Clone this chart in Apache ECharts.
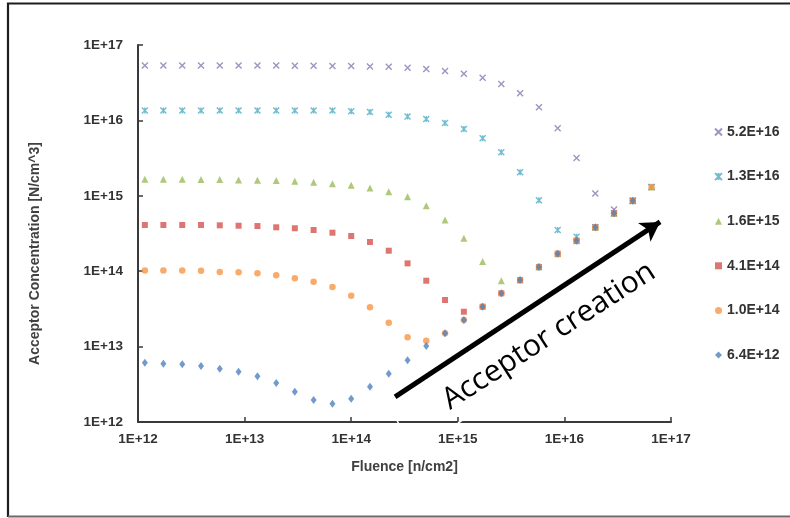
<!DOCTYPE html>
<html>
<head>
<meta charset="utf-8">
<script src="https://cdn.jsdelivr.net/npm/echarts@6/dist/echarts.min.js"></script>
<style>
  html, body { margin: 0; padding: 0; background: #fff; }
  #chart { width: 790px; height: 518px; }
</style>
</head>
<body>
<div id="chart"></div>
<script>
// Fluence steps (n/cm2), each about 1.5x the previous one
const fluence = [1.16e12, 1.73e12, 2.60e12, 3.90e12, 5.85e12, 8.78e12, 1.32e13, 1.98e13,
  2.96e13, 4.44e13, 6.67e13, 1.00e14, 1.50e14, 2.25e14, 3.38e14, 5.06e14, 7.59e14,
  1.14e15, 1.71e15, 2.56e15, 3.84e15, 5.77e15, 8.65e15, 1.30e16, 1.95e16, 2.92e16,
  4.38e16, 6.57e16];

// Acceptor concentration (N/cm^3) per initial doping level
const na52e16 = [5.35e16, 5.35e16, 5.35e16, 5.35e16, 5.35e16, 5.35e16, 5.35e16, 5.35e16,
  5.3e16, 5.3e16, 5.28e16, 5.25e16, 5.2e16, 5.15e16, 5.0e16, 4.81e16, 4.52e16, 4.16e16,
  3.68e16, 3.04e16, 2.29e16, 1.49e16, 7.85e15, 3.17e15, 1.07e15, 6.6e14, 8.6e14, 1.31e15];
const na13e16 = [1.35e16, 1.35e16, 1.35e16, 1.35e16, 1.35e16, 1.35e16, 1.35e16, 1.35e16,
  1.35e16, 1.35e16, 1.35e16, 1.32e16, 1.29e16, 1.19e16, 1.13e16, 1.04e16, 9.25e15, 7.69e15,
  5.79e15, 3.78e15, 2.05e15, 8.71e14, 3.52e14, 2.87e14, 3.82e14, 5.86e14, 8.61e14, 1.31e15];
const na16e15 = [1.66e15, 1.66e15, 1.66e15, 1.64e15, 1.64e15, 1.62e15, 1.61e15, 1.59e15,
  1.56e15, 1.51e15, 1.45e15, 1.38e15, 1.27e15, 1.13e15, 9.73e14, 7.40e14, 4.78e14, 2.73e14,
  1.34e14, 7.48e13, 7.64e13, 1.14e14, 1.71e14, 2.54e14, 3.82e14, 5.86e14, 8.61e14, 1.31e15];
const na41e14 = [4.1e14, 4.1e14, 4.1e14, 4.1e14, 4.06e14, 4.01e14, 3.97e14, 3.82e14,
  3.71e14, 3.52e14, 3.24e14, 2.93e14, 2.44e14, 1.87e14, 1.27e14, 7.48e13, 4.15e13, 2.90e13,
  3.38e13, 5.09e13, 7.64e13, 1.14e14, 1.71e14, 2.54e14, 3.82e14, 5.86e14, 8.61e14];
const na10e14 = [1.02e14, 1.02e14, 1.02e14, 1.01e14, 9.76e13, 9.67e13, 9.38e13, 8.83e13,
  8.05e13, 7.26e13, 6.17e13, 4.73e13, 3.32e13, 2.07e13, 1.33e13, 1.20e13, 1.50e13, 2.25e13,
  3.38e13, 5.09e13, 7.64e13, 1.14e14, 1.71e14, 2.54e14, 3.82e14, 5.86e14, 8.61e14, 1.31e15];
const na64e12 = [6.11e12, 5.93e12, 5.82e12, 5.53e12, 5.09e12, 4.65e12, 4.04e12, 3.29e12,
  2.52e12, 1.96e12, 1.75e12, 2.04e12, 2.94e12, 4.37e12, 6.58e12, 1.02e13, 1.50e13, 2.25e13,
  3.38e13, 5.09e13, 7.64e13, 1.14e14, 1.71e14, 2.54e14, 3.82e14, 5.86e14, 8.61e14];

const seriesNames = ['5.2E+16', '1.3E+16', '1.6E+15', '4.1E+14', '1.0E+14', '6.4E+12'];

// Arrow annotation endpoints in data space [fluence, concentration]
const arrowFrom = [2.58e14, 2.15e12];
const arrowTo = [7.9e16, 4.5e14];
const arrowText = 'Acceptor creation';

const toPoints = vals => vals.map((v, i) => [fluence[i], v]);

const crossPath = 'path://M0,0L10,10M10,0L0,10';
const starPath = 'path://M0,0L10,10M10,0L0,10M5,0L5,10';

const labelFont = { fontFamily: 'Liberation Sans', fontWeight: 'bold', fontSize: 13.5, color: '#333' };
const expLabel = v => '1E+' + Math.round(Math.log10(v));

const chart = echarts.init(document.getElementById('chart'), null, { renderer: 'canvas' });

const series = [
  { name: seriesNames[0], data: toPoints(na52e16), symbol: crossPath, symbolSize: 6,
    itemStyle: { color: 'rgba(0,0,0,0)', borderColor: '#8a78b2', borderWidth: 1.4 } },
  { name: seriesNames[1], data: toPoints(na13e16), symbol: starPath, symbolSize: 6,
    itemStyle: { color: 'rgba(0,0,0,0)', borderColor: '#4bacc6', borderWidth: 1.4 } },
  { name: seriesNames[2], data: toPoints(na16e15), symbol: 'triangle', symbolSize: 7,
    itemStyle: { color: '#9bbb59' } },
  { name: seriesNames[3], data: toPoints(na41e14), symbol: 'rect', symbolSize: 6,
    itemStyle: { color: '#d4534f' } },
  { name: seriesNames[4], data: toPoints(na10e14), symbol: 'circle', symbolSize: 6.5,
    itemStyle: { color: '#f79646' } },
  { name: seriesNames[5], data: toPoints(na64e12), symbol: 'diamond', symbolSize: [6, 8],
    itemStyle: { color: '#4f81bd' } }
].map(s => Object.assign({ type: 'scatter', animation: false }, s));

// Thick arrow drawn in data coordinates
series[0].markLine = {
  silent: true,
  animation: false,
  symbol: ['none', 'arrow'],
  symbolSize: [17, 19],
  label: { show: false },
  lineStyle: { color: '#000', width: 5, type: 'solid' },
  data: [[{ coord: arrowFrom }, { coord: arrowTo }]]
};

chart.setOption({
  animation: false,
  backgroundColor: '#fff',
  grid: { left: 138, right: 119, top: 45, bottom: 96 },
  xAxis: {
    type: 'log', logBase: 10, min: 1e12, max: 1e17,
    name: 'Fluence [n/cm2]', nameLocation: 'middle', nameGap: 38,
    nameTextStyle: Object.assign({}, labelFont, { fontSize: 14, color: '#404040' }),
    axisLine: { lineStyle: { color: '#3a3a3a', width: 2 } },
    axisTick: { inside: true, length: 5, lineStyle: { color: '#3a3a3a', width: 1.5 } },
    axisLabel: Object.assign({ margin: 10, formatter: expLabel }, labelFont),
    splitLine: { show: false },
    minorTick: { show: false }
  },
  yAxis: {
    type: 'log', logBase: 10, min: 1e12, max: 1e17,
    name: 'Acceptor Concentration [N/cm^3]', nameLocation: 'middle', nameGap: 96,
    nameTextStyle: Object.assign({}, labelFont, { fontSize: 14, color: '#404040',
      padding: [0, 40, 0, 0] }),
    axisLine: { lineStyle: { color: '#3a3a3a', width: 2 } },
    axisTick: { inside: true, length: 5, lineStyle: { color: '#3a3a3a', width: 1.5 } },
    axisLabel: Object.assign({ margin: 15, formatter: expLabel }, labelFont),
    splitLine: { show: false }
  },
  legend: {
    orient: 'vertical', left: 709, top: 119,
    itemWidth: 7, itemHeight: 7, itemGap: 28.6,
    data: seriesNames,
    textStyle: Object.assign({}, labelFont, { fontSize: 14, lineHeight: 16 })
  },
  series: series
});

// Annotation text along the arrow, plus the chart-area frame
function placeAnnotations() {
  const a = chart.convertToPixel({ gridIndex: 0 }, arrowFrom);
  const b = chart.convertToPixel({ gridIndex: 0 }, arrowTo);
  const ang = Math.atan2(a[1] - b[1], b[0] - a[0]);
  const cx = 549, cy = 336;
  chart.setOption({
    graphic: [
      { type: 'polyline', silent: true, z: 100,
        shape: { points: [[8, 517], [8, 3.5], [800, 3.5]] },
        style: { stroke: '#1e1e1e', lineWidth: 2.2, fill: null } },
      { type: 'line', silent: true, z: 100,
        shape: { x1: 8, y1: 516.5, x2: 800, y2: 516.5 },
        style: { stroke: '#6a6a6a', lineWidth: 2 } },
      { type: 'line', silent: true, z: 100,
        shape: { x1: 395, y1: 416, x2: 399.5, y2: 425.5 },
        style: { stroke: '#fff', lineWidth: 1.6 } },
      { type: 'line', silent: true, z: 100,
        shape: { x1: 458, y1: 423, x2: 468.5, y2: 416 },
        style: { stroke: '#fff', lineWidth: 1.6 } },
      { type: 'text', silent: true, z: 100,
        x: cx, y: cy, rotation: ang - 0.01,
        style: { text: arrowText, fill: '#000', font: '30px "Open Sans"',
                 textAlign: 'center', textVerticalAlign: 'middle' } }
    ]
  });
}
placeAnnotations();
</script>
</body>
</html>
